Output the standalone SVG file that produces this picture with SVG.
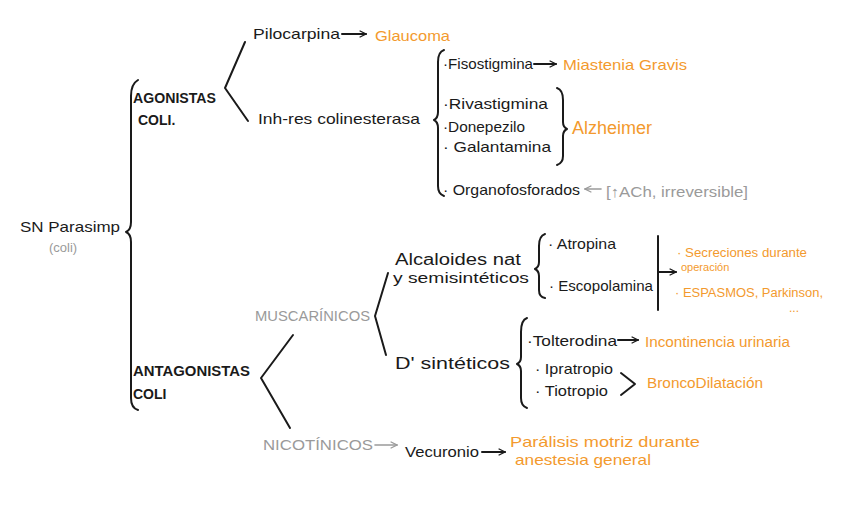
<svg xmlns="http://www.w3.org/2000/svg" width="848" height="530" viewBox="0 0 848 530">
<defs>
<style>
text{font-family:"Liberation Sans",Arial,sans-serif;font-size:15px;fill:#1a1a1a}
.o{fill:#f39a2e}
.g{fill:#9a9a9a}
.s{font-size:12px}
.cap{font-size:14px;font-weight:bold}
.ln{fill:none;stroke:#1a1a1a;stroke-width:2;stroke-linecap:round;stroke-linejoin:round}
.lg{fill:none;stroke:#9a9a9a;stroke-width:1.6;stroke-linecap:round;stroke-linejoin:round}
</style>
<marker id="ah" viewBox="0 0 10 10" refX="9" refY="5" markerWidth="8" markerHeight="8" orient="auto" markerUnits="userSpaceOnUse"><path d="M1,1 L9,5 L1,9" fill="none" stroke="#1a1a1a" stroke-width="1.6"/></marker>
<marker id="ahg" viewBox="0 0 10 10" refX="9" refY="5" markerWidth="8" markerHeight="8" orient="auto" markerUnits="userSpaceOnUse"><path d="M1,1 L9,5 L1,9" fill="none" stroke="#9a9a9a" stroke-width="1.6"/></marker>
</defs>
<rect width="848" height="530" fill="#fff"/>

<g id="connectors">
<path class="ln" d="M138,80 Q131,84 131,96 L131,222 Q131,230 126,232 Q131,234 131,242 L131,398 Q131,408 138,410"/>
<polyline class="ln" points="245,42 225,88 248,121"/>
<path class="ln" d="M444,50 Q438,52 438,62 L438,112 Q438,118 434,120 Q438,122 438,128 L438,186 Q438,194 444,196"/>
<path class="ln" d="M557,88 Q563,90 563,100 L563,122 Q563,127 567,129 Q563,131 563,136 L563,156 Q563,163 557,165"/>
<polyline class="ln" points="293,335 261,378 290,428"/>
<polyline class="ln" points="388,273 375,316 386,355"/>
<path class="ln" d="M545,234 Q539,236 539,246 L539,262 Q539,267 535,269 Q539,271 539,276 L539,290 Q539,297 545,298"/>
<line class="ln" x1="658" y1="236" x2="658" y2="310"/>
<line class="ln" x1="658" y1="272" x2="676" y2="272" marker-end="url(#ah)"/>
<path class="ln" d="M527,318 Q521,320 521,332 L521,357 Q521,362 517,364 Q521,366 521,371 L521,398 Q521,406 527,408"/>
<polyline class="ln" points="621,373 635,384 621,395"/>
<line class="ln" x1="342" y1="34" x2="366" y2="34" marker-end="url(#ah)"/>
<line class="ln" x1="534" y1="64" x2="556" y2="64" marker-end="url(#ah)"/>
<line class="ln" x1="618" y1="340" x2="638" y2="340" marker-end="url(#ah)"/>
<line class="lg" x1="601" y1="189" x2="585" y2="189" marker-end="url(#ahg)"/>
<line class="lg" x1="375" y1="445" x2="397" y2="445" marker-end="url(#ahg)"/>
<line class="ln" x1="482" y1="452" x2="505" y2="452" marker-end="url(#ah)"/>
</g>

<g id="sn-parasimp"><text x="20" y="232" textLength="100" lengthAdjust="spacingAndGlyphs">SN Parasimp</text><text class="g" x="49" y="252" style="font-size:13px">(coli)</text></g>
<g id="agonistas"><text class="cap" x="133" y="103" textLength="83" lengthAdjust="spacingAndGlyphs">AGONISTAS</text><text class="cap" x="138" y="125">COLI.</text></g>
<g id="pilocarpina"><text x="253" y="39" textLength="87" lengthAdjust="spacingAndGlyphs">Pilocarpina</text></g>
<g id="glaucoma"><text class="o" x="375" y="41" textLength="75" lengthAdjust="spacingAndGlyphs">Glaucoma</text></g>
<g id="inhibidores"><text x="258" y="124" textLength="162" lengthAdjust="spacingAndGlyphs">Inh-res  colinesterasa</text></g>
<g id="fisostigmina"><text x="443" y="69" textLength="90" lengthAdjust="spacingAndGlyphs">·Fisostigmina</text></g>
<g id="miastenia"><text class="o" x="563" y="70" textLength="124" lengthAdjust="spacingAndGlyphs">Miastenia  Gravis</text></g>
<g id="rivastigmina"><text x="443" y="109" textLength="105" lengthAdjust="spacingAndGlyphs">·Rivastigmina</text></g>
<g id="donepezilo"><text x="443" y="132" textLength="82" lengthAdjust="spacingAndGlyphs">·Donepezilo</text></g>
<g id="galantamina"><text x="443" y="152" textLength="108" lengthAdjust="spacingAndGlyphs">· Galantamina</text></g>
<g id="alzheimer"><text class="o" x="572" y="134" style="font-size:18px" textLength="80" lengthAdjust="spacingAndGlyphs">Alzheimer</text></g>
<g id="organofosforados"><text x="443" y="195" textLength="137" lengthAdjust="spacingAndGlyphs">· Organofosforados</text></g>
<g id="ach-irreversible"><text class="g" x="606" y="197" textLength="142" lengthAdjust="spacingAndGlyphs">[↑ACh, irreversible]</text></g>
<g id="antagonistas"><text class="cap" x="133" y="376" textLength="117" lengthAdjust="spacingAndGlyphs">ANTAGONISTAS</text><text class="cap" x="133" y="399">COLI</text></g>
<g id="muscarinicos"><text class="g" x="255" y="321" textLength="115" lengthAdjust="spacingAndGlyphs">MUSCARÍNICOS</text></g>
<g id="alcaloides"><text x="395" y="265" style="font-size:16px" textLength="126" lengthAdjust="spacingAndGlyphs">Alcaloides  nat</text><text x="393" y="283" textLength="136" lengthAdjust="spacingAndGlyphs">y semisintéticos</text></g>
<g id="atropina"><text x="548" y="249" textLength="68" lengthAdjust="spacingAndGlyphs">· Atropina</text></g>
<g id="escopolamina"><text x="549" y="291" textLength="104" lengthAdjust="spacingAndGlyphs">· Escopolamina</text></g>
<g id="secreciones"><text class="o s" x="677" y="257" textLength="130" lengthAdjust="spacingAndGlyphs">· Secreciones  durante</text><text class="o" x="681" y="271" style="font-size:11px">operación</text></g>
<g id="espasmos"><text class="o s" x="675" y="297" textLength="148" lengthAdjust="spacingAndGlyphs">· ESPASMOS, Parkinson,</text><text class="o s" x="789" y="312">...</text></g>
<g id="d-sinteticos"><text x="395" y="369" style="font-size:17px" textLength="115" lengthAdjust="spacingAndGlyphs">D' sintéticos</text></g>
<g id="tolterodina"><text x="527" y="346" textLength="90" lengthAdjust="spacingAndGlyphs">·Tolterodina</text></g>
<g id="incontinencia"><text class="o" x="645" y="347" style="font-size:14px" textLength="145" lengthAdjust="spacingAndGlyphs">Incontinencia  urinaria</text></g>
<g id="ipratropio"><text x="535" y="374" textLength="78" lengthAdjust="spacingAndGlyphs">· Ipratropio</text></g>
<g id="tiotropio"><text x="535" y="396" textLength="73" lengthAdjust="spacingAndGlyphs">· Tiotropio</text></g>
<g id="broncodilatacion"><text class="o" x="647" y="388" style="font-size:14px" textLength="116" lengthAdjust="spacingAndGlyphs">BroncoDilatación</text></g>
<g id="nicotinicos"><text class="g" x="263" y="450" textLength="110" lengthAdjust="spacingAndGlyphs">NICOTÍNICOS</text></g>
<g id="vecuronio"><text x="405" y="457" textLength="74" lengthAdjust="spacingAndGlyphs">Vecuronio</text></g>
<g id="paralisis"><text class="o" x="510" y="447" textLength="190" lengthAdjust="spacingAndGlyphs">Parálisis  motriz  durante</text><text class="o" x="515" y="465" textLength="136" lengthAdjust="spacingAndGlyphs">anestesia  general</text></g>
</svg>
